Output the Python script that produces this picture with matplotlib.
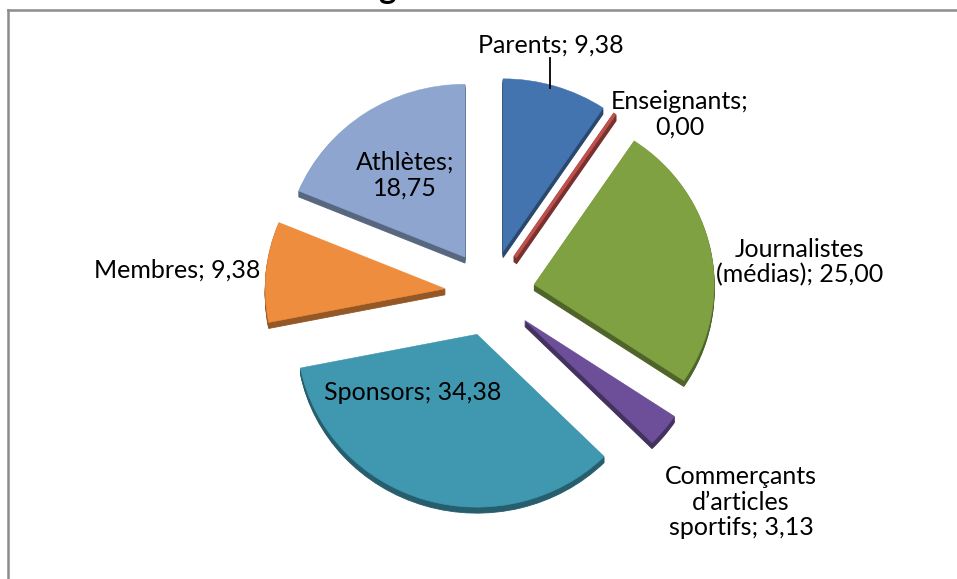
import numpy as np
import matplotlib
matplotlib.use("Agg")
from matplotlib import pyplot as plt
from matplotlib.patches import Wedge
from matplotlib.transforms import Affine2D
from matplotlib.lines import Line2D
from matplotlib.colors import to_rgb

# Répartition des acteurs (%)
names = ["Parents", "Enseignants", "Journalistes\n(médias)",
         "Commerçants\nd’articles\nsportifs", "Sponsors", "Membres", "Athlètes"]
values = [9.38, 0.00, 25.00, 3.13, 34.38, 9.38, 18.75]
seps = ["; ", ";\n", "; ", "; ", "; ", "; ", ";\n"]
colors = ["#4474B0", "#C0504D", "#7FA141", "#6C4F98", "#3F98B0", "#EE8D3E", "#8EA6CF"]

# label anchor points (pixels, y from top)
label_pos = [(551, 45), (680, 114), (800, 262), (741, 502),
             (413, 393), (177, 270), (405, 175)]

W, H = 957, 579
cx, cy = 490, H - 293      # pie centre
R = 180                    # radius
K = 0.96                   # vertical squash of the tilted disc
D = 45                     # explode distance
depth = 6

plt.rcParams['font.family'] = ['Lato', 'DejaVu Sans']

fig = plt.figure(figsize=(W / 100, H / 100), dpi=100)
ax = fig.add_axes([0, 0, 1, 1])
ax.set_xlim(0, W)
ax.set_ylim(0, H)
ax.axis("off")

total = sum(values)
start = 0.0
slices = []
for v, c in zip(values, colors):
    span = 360.0 * v / total
    mid = np.radians(start + span / 2)
    ox, oy = D * np.sin(mid), D * np.cos(mid) * K
    # clockwise from 12 o'clock -> matplotlib ccw from +x
    slices.append((90 - (start + span), 90 - start, ox, oy, c, v))
    start += span

# side walls first (darker copies pushed down), then the top faces
for t1, t2, ox, oy, c, v in slices:
    dark = tuple(np.array(to_rgb(c)) * 0.62)
    for s in range(1, depth + 1):
        tr = Affine2D().scale(R, R * K).translate(cx + ox, cy + oy - s) + ax.transData
        lw = 3 if v == 0 else 0.6
        ax.add_patch(Wedge((0, 0), 1, t1, t2, transform=tr,
                           facecolor=dark, edgecolor=dark, lw=lw, zorder=1))
for t1, t2, ox, oy, c, v in slices:
    tr = Affine2D().scale(R, R * K).translate(cx + ox, cy + oy) + ax.transData
    lw = 2.5 if v == 0 else 0.4
    ax.add_patch(Wedge((0, 0), 1, t1, t2, transform=tr,
                       facecolor=c, edgecolor=c, lw=lw, zorder=2))

# data labels
for name, sep, v, (lx, ly) in zip(names, seps, values, label_pos):
    txt = f"{name}{sep}{v:.2f}".replace(".", ",")
    ax.text(lx, H - ly, txt, ha="center", va="center", fontsize=18,
            linespacing=1.13, color="black", zorder=5)

# leader line for Parents
ax.add_line(Line2D([550, 550], [H - 58, H - 88], color="black", lw=1.3, zorder=5))

# chart border (top and left visible)
ax.add_line(Line2D([7.5, W], [H - 10, H - 10], color="#8c8c8c", lw=1.8, zorder=6))
ax.add_line(Line2D([7.5, 7.5], [H - 10, 0], color="#8c8c8c", lw=1.8, zorder=6))

# title sits above the border
fig.text(387 / W, 1 + 1.0 / H, "g", ha="center", va="baseline",
         fontsize=24, fontweight="bold", color="black")

fig.savefig("out.png", dpi=100)
